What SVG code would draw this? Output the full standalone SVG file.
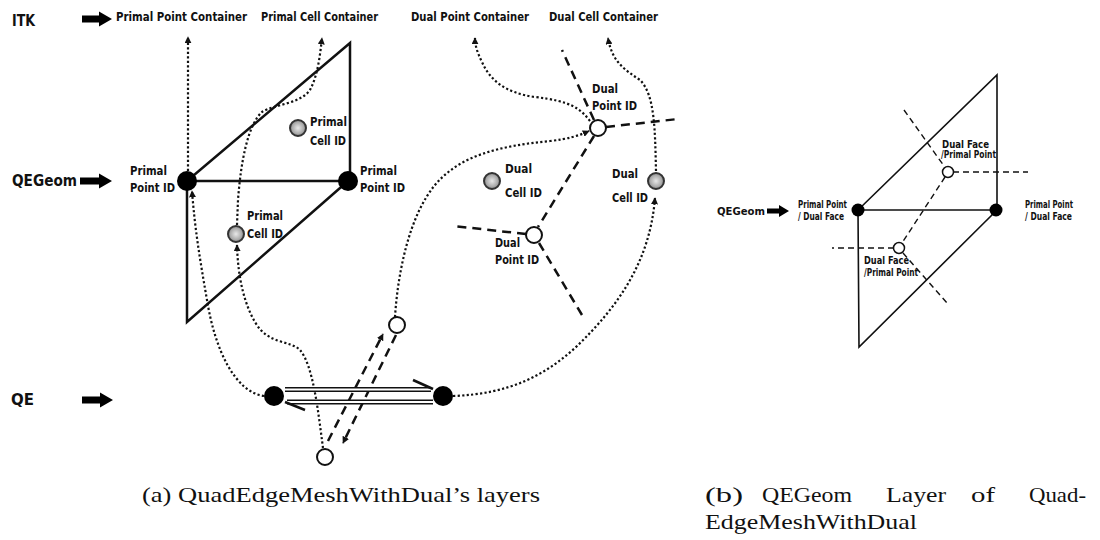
<svg xmlns="http://www.w3.org/2000/svg" width="1100" height="540" viewBox="0 0 1100 540">
<style>
.t{font-family:"DejaVu Sans Condensed","Liberation Sans Narrow","Liberation Sans",sans-serif;font-weight:bold;fill:#111}
.big{font-size:15px}
.cont{font-size:12px}
.lb{font-size:13px}
.sm{font-size:10px}
.cap{font-family:"Liberation Serif","DejaVu Serif",serif;font-size:22px;fill:#111}
.solid{fill:none;stroke:#111;stroke-width:2.5;stroke-linejoin:miter}
.solid2{fill:none;stroke:#111;stroke-width:1.6}
.dot{fill:none;stroke:#111;stroke-width:2.2;stroke-dasharray:2.2 2.3}
.dash{fill:none;stroke:#111;stroke-width:2.5;stroke-dasharray:9 6}
.dash2{fill:none;stroke:#111;stroke-width:1.4;stroke-dasharray:6 4}
.blk{fill:#000}
.wht{fill:#fff;stroke:#111;stroke-width:2}
.wht2{fill:#fff;stroke:#111;stroke-width:1.5}
.gry{fill:url(#g);stroke:#333;stroke-width:2}
</style>
<defs>
<radialGradient id="g" cx="0.5" cy="0.5" r="0.6">
<stop offset="0" stop-color="#e8e8e8"/>
<stop offset="0.6" stop-color="#aaa"/>
<stop offset="1" stop-color="#666"/>
</radialGradient>
<marker id="ah" viewBox="0 0 10 10" refX="9" refY="5" markerWidth="7" markerHeight="7" markerUnits="userSpaceOnUse" orient="auto">
<path d="M0,0 L10,5 L0,10 Z" fill="#111"/>
</marker>
</defs>
<rect width="1100" height="540" fill="#fff"/>

<!-- layer labels -->
<g id="layer-itk">
<text class="t big" x="12" y="26" textLength="23" lengthAdjust="spacingAndGlyphs">ITK</text>
<polygon class="blk" points="82,15.5 99,15.5 99,11.5 112,19 99,26.5 99,22.5 82,22.5"/>
</g>
<g id="layer-qegeom">
<text class="t big" x="12" y="186" textLength="65" lengthAdjust="spacingAndGlyphs">QEGeom</text>
<polygon class="blk" points="80,177.5 99,177.5 99,173.5 112,181 99,188.5 99,184.5 80,184.5"/>
</g>
<g id="layer-qe">
<text class="t big" x="11" y="405" textLength="23" lengthAdjust="spacingAndGlyphs">QE</text>
<polygon class="blk" points="82,396.5 100,396.5 100,392.5 113,400 100,407.5 100,403.5 82,403.5"/>
</g>

<!-- containers -->
<g id="primal-point-container"><text class="t cont" x="116" y="21" textLength="131" lengthAdjust="spacingAndGlyphs">Primal Point Container</text></g>
<g id="primal-cell-container"><text class="t cont" x="261" y="21" textLength="117" lengthAdjust="spacingAndGlyphs">Primal Cell Container</text></g>
<g id="dual-point-container"><text class="t cont" x="411" y="21" textLength="118" lengthAdjust="spacingAndGlyphs">Dual Point Container</text></g>
<g id="dual-cell-container"><text class="t cont" x="549" y="21" textLength="109" lengthAdjust="spacingAndGlyphs">Dual Cell Container</text></g>

<!-- primal mesh (a) -->
<g id="primal-mesh-a">
<path class="solid" d="M187,181 L350,43 L350,181 Z M187,181 L187,322 L348,181"/>
</g>

<!-- connectors -->
<g id="connectors">
<path class="dot" d="M188,171 L188,37" marker-end="url(#ah)"/>
<path class="dot" d="M237,225 L238,200 C241,160 248,125 262,112 C275,104 300,104 310,90 C318,75 320,55 322,38" marker-end="url(#ah)"/>
<path class="dot" d="M264,396 C235,392 215,350 207,300 C200,260 195,230 192,191" marker-end="url(#ah)"/>
<path class="dot" d="M323,448 C318,410 313,365 300,350 C290,340 268,345 255,322 C245,305 238,280 237,245" marker-end="url(#ah)"/>
<path class="dot" d="M453,396 C510,394 545,375 575,348 C620,305 650,260 655,198" marker-end="url(#ah)"/>
<path class="dot" d="M395,317 C398,270 410,215 435,185 C460,155 500,146 550,141 C568,139 578,136 589,131" marker-end="url(#ah)"/>
<path class="dot" d="M590,121 C580,108 570,101 535,97 C505,93 490,80 482,62 C477,52 475,45 475,38" marker-end="url(#ah)"/>
<path class="dot" d="M656,171 C655,130 655,95 640,80 C625,70 612,62 608,38" marker-end="url(#ah)"/>
<!-- dual edges -->
<path class="dash" d="M594,120 L562,50"/>
<path class="dash" d="M606,127 L678,119"/>
<path class="dash" d="M594,136 L538,227"/>
<path class="dash" d="M526,234 L453,226"/>
<path class="dash" d="M539,243 L582,315"/>
<!-- QE dual dashed -->
<path class="dash" d="M328,441 L383,334" marker-end="url(#ah)"/>
<path class="dash" d="M396,335 L343,443" marker-end="url(#ah)"/>
<!-- QE primal double edges -->
<path d="M285,389.5 L431,389.5" fill="none" stroke="#111" stroke-width="5"/>
<path d="M285,389.5 L431,389.5" fill="none" stroke="#fff" stroke-width="1.8"/>
<path d="M413,380 L433,389" fill="none" stroke="#111" stroke-width="2.5"/>
<path d="M287,402 L433,402" fill="none" stroke="#111" stroke-width="5"/>
<path d="M287,402 L433,402" fill="none" stroke="#fff" stroke-width="1.8"/>
<path d="M285,402 L305,410" fill="none" stroke="#111" stroke-width="2.5"/>
</g>

<!-- nodes (a) -->
<g id="primal-point-left">
<circle class="blk" cx="187" cy="181" r="10"/>
<text class="t lb" x="130" y="175" textLength="37" lengthAdjust="spacingAndGlyphs">Primal</text>
<text class="t lb" x="130" y="192" textLength="45" lengthAdjust="spacingAndGlyphs">Point ID</text>
</g>
<g id="primal-point-right">
<circle class="blk" cx="348" cy="181" r="10"/>
<text class="t lb" x="360" y="175" textLength="37" lengthAdjust="spacingAndGlyphs">Primal</text>
<text class="t lb" x="360" y="192" textLength="45" lengthAdjust="spacingAndGlyphs">Point ID</text>
</g>
<g id="primal-cell-upper">
<circle class="gry" cx="298" cy="128" r="8"/>
<text class="t lb" x="310" y="126" textLength="37" lengthAdjust="spacingAndGlyphs">Primal</text>
<text class="t lb" x="310" y="145" textLength="36" lengthAdjust="spacingAndGlyphs">Cell ID</text>
</g>
<g id="primal-cell-lower">
<circle class="gry" cx="236" cy="234" r="8"/>
<text class="t lb" x="247" y="220" textLength="36" lengthAdjust="spacingAndGlyphs">Primal</text>
<text class="t lb" x="247" y="238" textLength="36" lengthAdjust="spacingAndGlyphs">Cell ID</text>
</g>
<g id="dual-point-upper">
<circle class="wht" cx="598" cy="128" r="8"/>
<text class="t lb" x="592" y="93" textLength="26" lengthAdjust="spacingAndGlyphs">Dual</text>
<text class="t lb" x="592" y="110" textLength="45" lengthAdjust="spacingAndGlyphs">Point ID</text>
</g>
<g id="dual-point-lower">
<circle class="wht" cx="534" cy="235" r="8"/>
<text class="t lb" x="495" y="247" textLength="25" lengthAdjust="spacingAndGlyphs">Dual</text>
<text class="t lb" x="495" y="264" textLength="44" lengthAdjust="spacingAndGlyphs">Point ID</text>
</g>
<g id="dual-cell-middle">
<circle class="gry" cx="492" cy="181" r="8"/>
<text class="t lb" x="505" y="173" textLength="27" lengthAdjust="spacingAndGlyphs">Dual</text>
<text class="t lb" x="505" y="197" textLength="37" lengthAdjust="spacingAndGlyphs">Cell ID</text>
</g>
<g id="dual-cell-right">
<circle class="gry" cx="656" cy="181" r="8"/>
<text class="t lb" x="612" y="178" textLength="26" lengthAdjust="spacingAndGlyphs">Dual</text>
<text class="t lb" x="612" y="202" textLength="36" lengthAdjust="spacingAndGlyphs">Cell ID</text>
</g>
<g id="qe-origin-left"><circle class="blk" cx="274" cy="396" r="10"/></g>
<g id="qe-dest-right"><circle class="blk" cx="443" cy="396" r="10"/></g>
<g id="qe-rot-upper"><circle class="wht" cx="397" cy="325" r="8"/></g>
<g id="qe-rot-lower"><circle class="wht" cx="325" cy="457" r="8"/></g>

<!-- (b) QEGeom layer -->
<g id="b-layer-label">
<text class="t" font-size="11" x="717" y="215" textLength="48" lengthAdjust="spacingAndGlyphs">QEGeom</text>
<polygon class="blk" points="767,208.5 779,208.5 779,205 789,211 779,217 779,213.5 767,213.5"/>
</g>
<g id="b-primal-mesh">
<path class="solid2" d="M858,210 L997,75 L997,210 Z M858,210 L859,347 L997,210"/>
</g>
<g id="b-connectors">
<path class="dash2" d="M904,110 L944,166"/>
<path class="dash2" d="M953,172 L1028,172"/>
<path class="dash2" d="M945,177 L902,243"/>
<path class="dash2" d="M894,248 L832,248"/>
<path class="dash2" d="M903,253 L947,303"/>
</g>
<g id="b-primal-left">
<circle class="blk" cx="858" cy="210" r="6.5"/>
<text class="t sm" x="798" y="208" textLength="49" lengthAdjust="spacingAndGlyphs">Primal Point</text>
<text class="t sm" x="798" y="220" textLength="46" lengthAdjust="spacingAndGlyphs">/ Dual Face</text>
</g>
<g id="b-primal-right">
<circle class="blk" cx="996" cy="210" r="6.5"/>
<text class="t sm" x="1025" y="208" textLength="48" lengthAdjust="spacingAndGlyphs">Primal Point</text>
<text class="t sm" x="1025" y="220" textLength="47" lengthAdjust="spacingAndGlyphs">/ Dual Face</text>
</g>
<g id="b-dual-upper">
<circle class="wht2" cx="948" cy="172" r="5.5"/>
<text class="t sm" x="942" y="148" textLength="47" lengthAdjust="spacingAndGlyphs">Dual Face</text>
<text class="t sm" x="941" y="158" textLength="55" lengthAdjust="spacingAndGlyphs">/Primal Point</text>
</g>
<g id="b-dual-lower">
<circle class="wht2" cx="899" cy="248" r="5.5"/>
<text class="t sm" x="864" y="264" textLength="45" lengthAdjust="spacingAndGlyphs">Dual Face</text>
<text class="t sm" x="864" y="276" textLength="54" lengthAdjust="spacingAndGlyphs">/Primal Point</text>
</g>

<!-- captions -->
<g id="captions">
<text class="cap" x="142" y="502" textLength="398" lengthAdjust="spacingAndGlyphs">(a) QuadEdgeMeshWithDual’s layers</text>
<text class="cap" x="705" y="502" textLength="38" lengthAdjust="spacingAndGlyphs">(b)</text>
<text class="cap" x="762" y="502" textLength="90" lengthAdjust="spacingAndGlyphs">QEGeom</text>
<text class="cap" x="886" y="502" textLength="60" lengthAdjust="spacingAndGlyphs">Layer</text>
<text class="cap" x="971" y="502" textLength="24" lengthAdjust="spacingAndGlyphs">of</text>
<text class="cap" x="1029" y="502" textLength="57" lengthAdjust="spacingAndGlyphs">Quad-</text>
<text class="cap" x="705" y="529" textLength="212" lengthAdjust="spacingAndGlyphs">EdgeMeshWithDual</text>
</g>
</svg>
